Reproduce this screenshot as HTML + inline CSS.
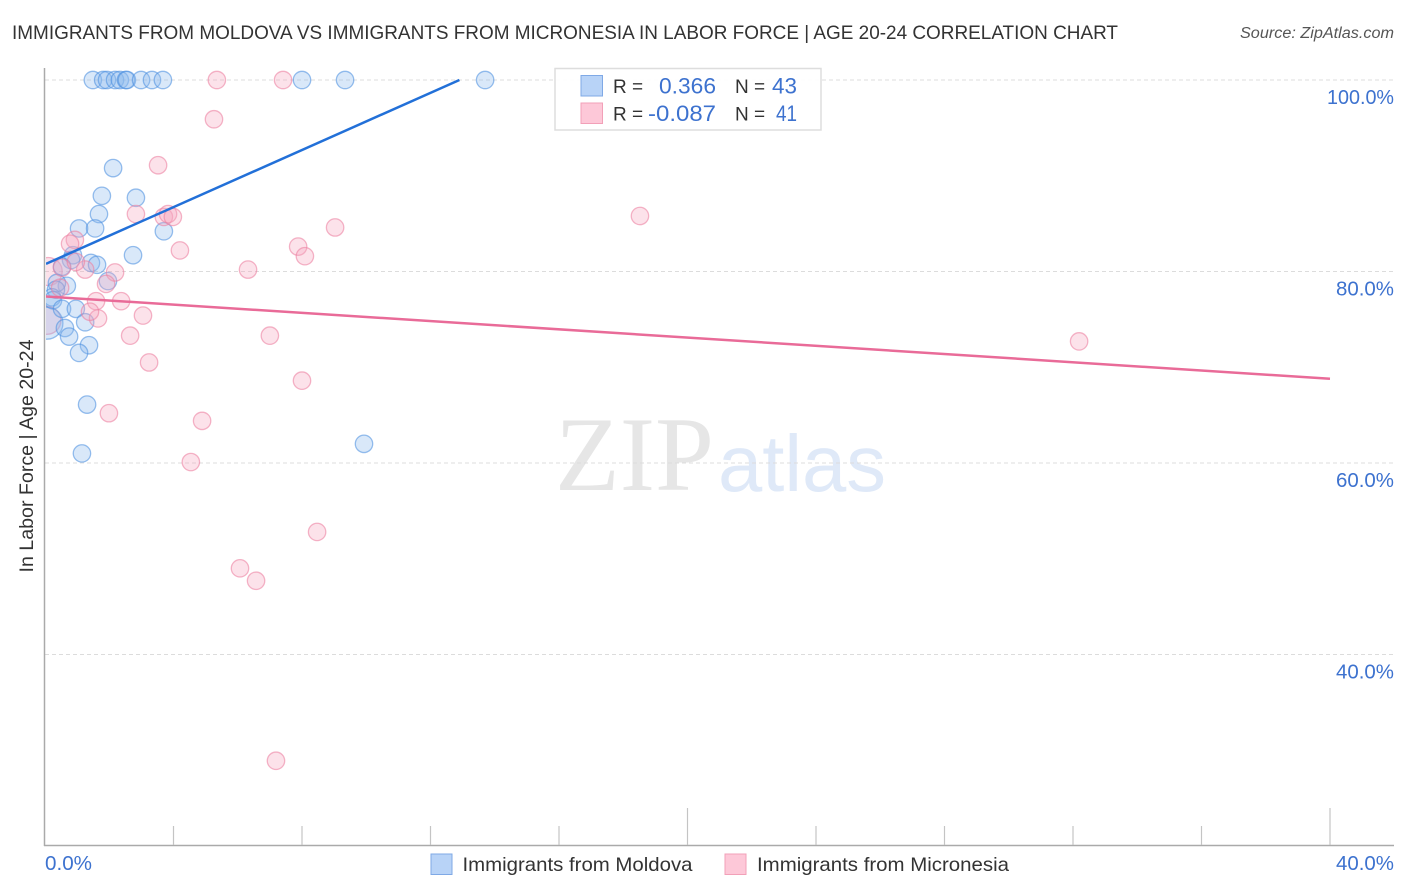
<!DOCTYPE html>
<html>
<head>
<meta charset="utf-8">
<title>Immigrants from Moldova vs Immigrants from Micronesia in Labor Force | Age 20-24 Correlation Chart</title>
<style>
html,body{margin:0;padding:0;background:#fff;}
svg{display:block;font-family:"Liberation Sans",sans-serif;}
</style>
</head>
<body>
<svg id="chart" xmlns="http://www.w3.org/2000/svg" width="1406" height="892" viewBox="0 0 1406 892">
  <defs>
    <clipPath id="plot-clip"><rect x="46" y="60" width="1350" height="786"/></clipPath>
  </defs>
  <rect width="1406" height="892" fill="#ffffff"/>
  <text x="12" y="39" font-size="19.5" fill="#333333" textLength="1106" lengthAdjust="spacingAndGlyphs">IMMIGRANTS FROM MOLDOVA VS IMMIGRANTS FROM MICRONESIA IN LABOR FORCE | AGE 20-24 CORRELATION CHART</text>
  <text x="1394" y="38" font-size="15.500" font-style="italic" fill="#555555" text-anchor="end" textLength="154" lengthAdjust="spacingAndGlyphs">Source: ZipAtlas.com</text>

  <g>
    <text x="555" y="490" font-family="'Liberation Serif',serif" font-size="106" fill="#e6e6e6" textLength="159" lengthAdjust="spacingAndGlyphs">ZIP</text>
    <text x="718" y="491" font-size="80" fill="#dfe9f8" textLength="168" lengthAdjust="spacingAndGlyphs">atlas</text>
  </g>

  <g id="grid"></g>
  <g id="axes"></g>
  <g id="marks" clip-path="url(#plot-clip)"></g>
  <g id="labels"></g>

  <text transform="translate(33,456) rotate(-90)" font-size="19.500" fill="#333333" text-anchor="middle" textLength="233" lengthAdjust="spacingAndGlyphs">In Labor Force | Age 20-24</text>

  <g>
    <rect x="555" y="68.5" width="266" height="61.5" fill="#ffffff" fill-opacity="0.9" stroke="#dddddd" stroke-width="1.5"/>
    <rect x="581" y="75.5" width="21.5" height="20.5" fill="#b8d3f7" stroke="#7fa9e6" stroke-width="1"/>
    <rect x="581" y="103" width="21.5" height="20.5" fill="#fdc8d8" stroke="#f2a0b8" stroke-width="1"/>
    <text x="613" y="93" font-size="19" fill="#333333">R =</text>
    <text x="716" y="93.500" font-size="22" fill="#3d72cf" text-anchor="end" textLength="57" lengthAdjust="spacingAndGlyphs">0.366</text>
    <text x="735" y="93" font-size="19" fill="#333333">N =</text>
    <text x="797" y="93.500" font-size="22" fill="#3d72cf" text-anchor="end" textLength="25" lengthAdjust="spacingAndGlyphs">43</text>
    <text x="613" y="120.500" font-size="19" fill="#333333">R =</text>
    <text x="716" y="121" font-size="22" fill="#3d72cf" text-anchor="end" textLength="68" lengthAdjust="spacingAndGlyphs">-0.087</text>
    <text x="735" y="120.500" font-size="19" fill="#333333">N =</text>
    <text x="797" y="121" font-size="22" fill="#3d72cf" text-anchor="end" textLength="21" lengthAdjust="spacingAndGlyphs">41</text>
  </g>

  <g>
    <rect x="431" y="854" width="21" height="20.500" fill="#b8d3f7" stroke="#7fa9e6" stroke-width="1"/>
    <text x="462.500" y="871" font-size="19.500" fill="#333333" textLength="230" lengthAdjust="spacingAndGlyphs">Immigrants from Moldova</text>
    <rect x="725" y="854" width="21" height="20.500" fill="#fdc8d8" stroke="#f2a0b8" stroke-width="1"/>
    <text x="757" y="871" font-size="19.500" fill="#333333" textLength="252" lengthAdjust="spacingAndGlyphs">Immigrants from Micronesia</text>
  </g>
</svg>
<script>
var yTickValues = [100, 80, 60, 40];
var yTickLabels = ["100.0%", "80.0%", "60.0%", "40.0%"];
var xTickValues = [4, 8, 12, 16, 20, 24, 28, 32, 36, 40];
var xMajorTicks = [20, 40];
var xEndLabels = ["0.0%", "40.0%"];

var moldovaX = [1.49,1.81,1.93,2.18,2.33,2.52,2.55,2.99,3.33,3.67,8.00,9.34,13.70,2.12,1.77,2.83,1.68,1.06,1.56,3.70,2.74,0.87,1.43,1.62,0.81,0.53,1.96,0.68,0.37,0.34,0.22,0.25,0.53,0.96,1.25,0.62,0.75,1.37,1.06,1.31,1.15,9.93];
var moldovaY = [100,100,100,100,100,100,100,100,100,100,100,100,100,90.8,87.9,87.7,86.0,84.5,84.5,84.2,81.7,81.7,80.9,80.7,81.2,80.5,79.0,78.5,78.8,78.1,77.3,77.0,76.1,76.1,74.7,74.1,73.2,72.3,71.5,66.1,61.0,62.0];
var moldovaClusterX = [0.06];
var moldovaClusterY = [74.6];
var moldovaTrendX = [0.03, 12.9];
var moldovaTrendY = [80.8, 100];

var micronesiaX = [5.35,7.41,5.26,3.52,2.83,3.70,3.83,3.98,9.03,18.52,4.20,7.88,8.09,6.32,0.93,0.78,2.18,1.25,0.53,0.96,1.90,1.59,2.37,3.05,1.65,1.40,2.65,3.24,1.99,4.89,4.54,7.00,8.00,32.19,8.47,6.07,6.57,7.19,0.47];
var micronesiaY = [100,100,95.9,91.1,86.0,85.7,86.0,85.7,84.6,85.8,82.2,82.6,81.6,80.2,83.3,82.9,79.9,80.2,80.4,81.0,78.7,76.9,76.9,75.4,75.1,75.8,73.3,70.5,65.2,64.4,60.1,73.3,68.6,72.7,52.8,49.0,47.7,28.9,78.3];
var micronesiaClusterX = [0.10, 0.06];
var micronesiaClusterY = [80.0, 74.9];
var micronesiaTrendX = [0, 40];
var micronesiaTrendY = [77.4, 68.8];

var NS = "http://www.w3.org/2000/svg";
function xScale(v) { return 45 + v * 32.125; }
function yScale(v) { return 80 + (100 - v) * 9.575; }
function make(tag, parent, attrs) {
  var el = document.createElementNS(NS, tag);
  for (var k in attrs) { el.setAttribute(k, attrs[k]); }
  parent.appendChild(el);
  return el;
}
var grid = document.getElementById("grid");
var axes = document.getElementById("axes");
var marks = document.getElementById("marks");
var labels = document.getElementById("labels");

yTickValues.forEach(function (v, i) {
  var g = make("line", grid, {x1: 45, x2: 1393, y1: yScale(v), y2: yScale(v), stroke: "#dcdcdc", "stroke-width": 1, "stroke-dasharray": "4 3"});
  
  
  var t = make("text", labels, {x: 1394, y: yScale(v) + 24, "font-size": 20, fill: "#3d72cf", "text-anchor": "end", textLength: i === 0 ? 67 : 58, lengthAdjust: "spacingAndGlyphs"});
  t.textContent = yTickLabels[i];
  
  
});

var yAxisLine = make("line", axes, {x1: 44.5, x2: 44.5, y1: 68, y2: 846, stroke: "#aaaaaa", "stroke-width": 1.5});


var xAxisLine = make("line", axes, {x1: 44, x2: 1394, y1: 845.5, y2: 845.5, stroke: "#aaaaaa", "stroke-width": 1.5});



xTickValues.forEach(function (v) {
  var major = xMajorTicks.indexOf(v) >= 0;
  var tick = make("line", axes, {x1: xScale(v), x2: xScale(v), y1: major ? 808 : 826, y2: 845, stroke: "#c4c4c4", "stroke-width": 1.2});
  
  
});

var xLabelLeft = make("text", labels, {x: 45, y: 870, "font-size": 20, fill: "#3d72cf", textLength: 47, lengthAdjust: "spacingAndGlyphs"});
xLabelLeft.textContent = xEndLabels[0];


var xLabelRight = make("text", labels, {x: 1394, y: 870, "font-size": 20, fill: "#3d72cf", "text-anchor": "end", textLength: 58, lengthAdjust: "spacingAndGlyphs"});
xLabelRight.textContent = xEndLabels[1];



function drawPoints(xs, ys, r, fill, stroke, name) {
  xs.forEach(function (v, i) {
    var c = make("circle", marks, {cx: xScale(v), cy: yScale(ys[i]), r: r, fill: fill, "fill-opacity": 0.33, stroke: stroke, "stroke-opacity": 0.58, "stroke-width": 1.3});
    
    
  });
}
drawPoints(micronesiaClusterX, micronesiaClusterY, 14, "#f7a8c0", "#ec7fa0", "micronesia-cluster-point");
drawPoints(moldovaClusterX, moldovaClusterY, 16, "#8db8ee", "#4d90e0", "moldova-cluster-point");
drawPoints(moldovaX, moldovaY, 8.7, "#8db8ee", "#4d90e0", "moldova-point");
drawPoints(micronesiaX, micronesiaY, 8.7, "#f7a8c0", "#ec7fa0", "micronesia-point");

var trendBlue = make("line", marks, {x1: xScale(moldovaTrendX[0]), y1: yScale(moldovaTrendY[0]), x2: xScale(moldovaTrendX[1]), y2: yScale(moldovaTrendY[1]), stroke: "#2270d8", "stroke-width": 2.5});


var trendPink = make("line", marks, {x1: xScale(micronesiaTrendX[0]), y1: yScale(micronesiaTrendY[0]), x2: xScale(micronesiaTrendX[1]), y2: yScale(micronesiaTrendY[1]), stroke: "#e96b98", "stroke-width": 2.5});


</script>
</body>
</html>
